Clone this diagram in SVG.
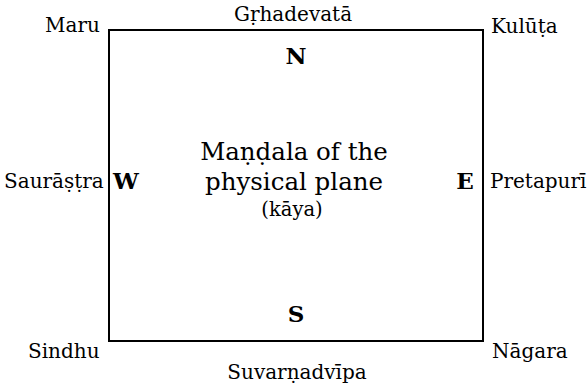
<svg xmlns="http://www.w3.org/2000/svg" width="588" height="390" viewBox="0 0 588 390">
<style>
text{font-family:"DejaVu Serif","Liberation Serif",serif;fill:#000}
.lbl{font-size:20px}
.dir{font-size:23px;font-weight:bold;text-anchor:middle}
.main{font-size:24.5px;text-anchor:middle}
.sub{font-size:19.5px;text-anchor:middle}
.mid{text-anchor:middle}
</style>
<rect width="588" height="390" fill="#fff"/>
<g id="connectors">
<rect x="109" y="30" width="374" height="311" fill="none" stroke="#000" stroke-width="2"/>
</g>
<g id="corners">
<text class="lbl" x="45" y="32">Maru</text>
<text class="lbl" x="491" y="33">Kulūṭa</text>
<text class="lbl" x="28" y="358">Sindhu</text>
<text class="lbl" x="492" y="358">Nāgara</text>
</g>
<g id="sides">
<text class="lbl mid" x="293" y="21">Gṛhadevatā</text>
<text class="lbl" x="4" y="188">Saurāṣṭra</text>
<text class="lbl" x="490" y="188">Pretapurī</text>
<text class="lbl mid" x="297" y="379">Suvarṇadvīpa</text>
</g>
<g id="directions">
<text class="dir" x="296" y="64">N</text>
<text class="dir" x="126" y="189">W</text>
<text class="dir" x="465" y="189">E</text>
<text class="dir" x="296" y="322">S</text>
</g>
<g id="center">
<text class="main" x="294" y="160">Maṇḍala of the</text>
<text class="main" x="294" y="190">physical plane</text>
<text class="sub" x="292" y="216">(kāya)</text>
</g>
</svg>
